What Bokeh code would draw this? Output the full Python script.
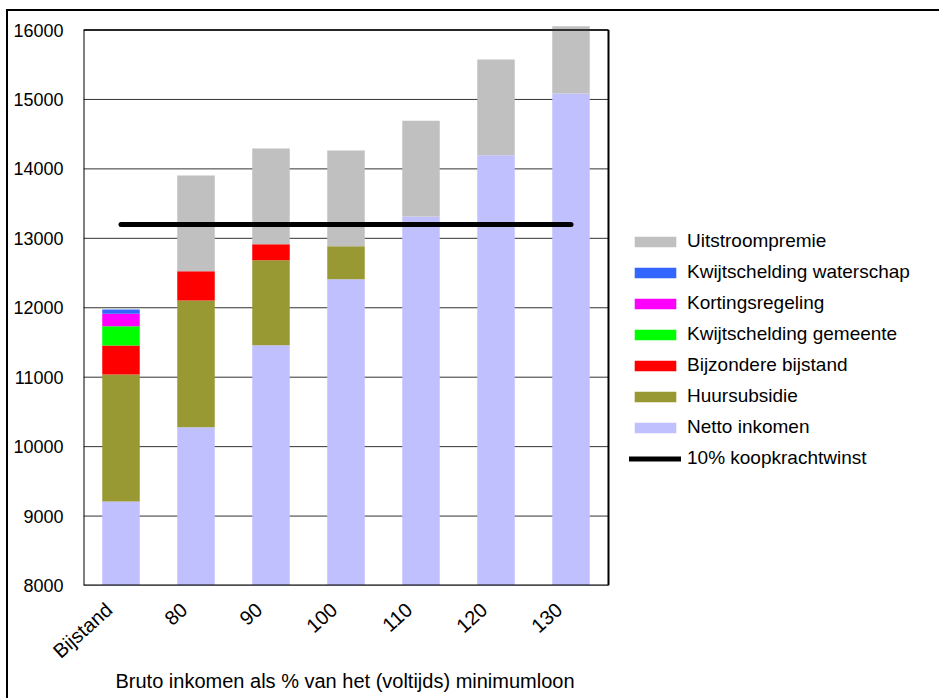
import math
from bokeh.plotting import figure
from bokeh.models import (ColumnDataSource, Range1d, Legend, LegendItem,
                          Title, FixedTicker)
from bokeh.embed import file_html
from bokeh.resources import INLINE

# ---- data -------------------------------------------------------------
categories = ["Bijstand", "80", "90", "100", "110", "120", "130"]
netto_inkomen = [9210, 10280, 11460, 12410, 13315, 14195, 15085]
huursubsidie = [1830, 1825, 1225, 475, 0, 0, 0]
bijzondere_bijstand = [415, 420, 230, 0, 0, 0, 0]
kwijtschelding_gemeente = [280, 0, 0, 0, 0, 0, 0]
kortingsregeling = [180, 0, 0, 0, 0, 0, 0]
kwijtschelding_waterschap = [60, 0, 0, 0, 0, 0, 0]
uitstroompremie = [0, 1380, 1380, 1380, 1380, 1380, 970]
koopkrachtwinst = [13200, 13200]
y_ticks = [8000, 9000, 10000, 11000, 12000, 13000, 14000, 15000, 16000]

series_keys = ["netto", "huur", "bijz", "kwgem", "korting", "kwwater", "uitstroom"]
series_names = ["Netto inkomen", "Huursubsidie", "Bijzondere bijstand",
                "Kwijtschelding gemeente", "Kortingsregeling",
                "Kwijtschelding waterschap", "Uitstroompremie"]
series_colors = ["#C0C0FF", "#999933", "#FF0000", "#00FF00", "#FF00FF",
                 "#3366FF", "#C0C0C0"]

n = len(categories)
xpos = [i + 0.5 for i in range(n)]          # category slots on a numeric axis
source = ColumnDataSource(dict(
    x=xpos, netto=netto_inkomen, huur=huursubsidie,
    bijz=bijzondere_bijstand, kwgem=kwijtschelding_gemeente,
    korting=kortingsregeling, kwwater=kwijtschelding_waterschap,
    uitstroom=uitstroompremie))

FONT = "Liberation Sans"
W, H = 939, 698
LEFT, TOP, FRAME_W_CATS = 83, 25, 525       # plot box of the categories: 525 px
frame_w = W - LEFT - 4
x_end = n * frame_w / FRAME_W_CATS

p = figure(width=W, height=H, output_backend="svg", toolbar_location=None,
           x_range=Range1d(0, x_end), y_range=Range1d(8000, 16065),
           min_border_left=LEFT, min_border_right=4, min_border_top=TOP,
           min_border_bottom=H - 585)
p.outline_line_color = None
p.background_fill_color = "white"
p.border_fill_color = None
p.styles = {
    "background-image": "linear-gradient(black, black), linear-gradient(black, black)",
    "background-size": "2px 100%, 100% 2px",
    "background-position": "6px 9px, 6px 9px",
    "background-repeat": "no-repeat",
}

# horizontal gridlines inside the category box
p.segment(x0=[0] * len(y_ticks), y0=y_ticks, x1=[n] * len(y_ticks), y1=y_ticks,
          line_color="#333333", line_width=1)

rs = p.vbar_stack(series_keys, x="x", width=0.5, color=series_colors,
                  line_color=None, source=source)

line_r = p.line(x=[xpos[0], xpos[-1]], y=koopkrachtwinst,
                line_width=5, line_color="black", line_cap="round")

# box border (left, right, bottom, top)
p.segment(x0=[0, n, 0], y0=[y_ticks[0], y_ticks[0], y_ticks[0]],
          x1=[0, n, n], y1=[y_ticks[-1], y_ticks[-1], y_ticks[0]],
          line_color="black", line_width=2)
p.segment(x0=[0], y0=[y_ticks[-1]], x1=[n], y1=[y_ticks[-1]],
          line_color="black", line_width=1.3)

# axes
p.yaxis.ticker = FixedTicker(ticks=y_ticks)
p.yaxis.axis_line_color = None
p.yaxis.major_tick_line_color = None
p.yaxis.minor_tick_line_color = None
p.yaxis.major_label_text_font = FONT
p.yaxis.major_label_text_font_size = "18px"
p.yaxis.major_label_text_color = "black"
p.yaxis.major_label_standoff = 14

label_shift = 0.16
tick_pos = [x - label_shift for x in xpos]
p.xaxis.ticker = FixedTicker(ticks=tick_pos)
p.xaxis.major_label_overrides = {t: c for t, c in zip(tick_pos, categories)}
p.xaxis.axis_line_color = None
p.xaxis.major_tick_line_color = None
p.xaxis.minor_tick_line_color = None
p.xaxis.major_label_text_font = FONT
p.xaxis.major_label_text_font_size = "20px"
p.xaxis.major_label_text_color = "black"
p.xaxis.major_label_orientation = math.radians(42)
p.xaxis.major_label_standoff = 15

p.xgrid.grid_line_color = None
p.ygrid.grid_line_color = None

# x-axis title
p.add_layout(Title(text="Bruto inkomen als % van het (voltijds) minimumloon",
                   text_font=FONT, text_font_size="20px", text_font_style="normal",
                   align="left", offset=32, standoff=-12, text_color="black"),
             "below")

# legend
items = [LegendItem(label=series_names[i], renderers=[rs[i]]) for i in range(6, -1, -1)]
items.append(LegendItem(label="10% koopkrachtwinst", renderers=[line_r]))
legend = Legend(items=items, location=(546, 116), padding=0, margin=0,
                glyph_width=52, glyph_height=13, label_height=20, spacing=9,
                label_standoff=6, border_line_color=None, background_fill_alpha=0,
                label_text_font=FONT, label_text_font_size="19px",
                label_text_color="black")
p.add_layout(legend)

open("out.html", "w").write(file_html(p, INLINE))
